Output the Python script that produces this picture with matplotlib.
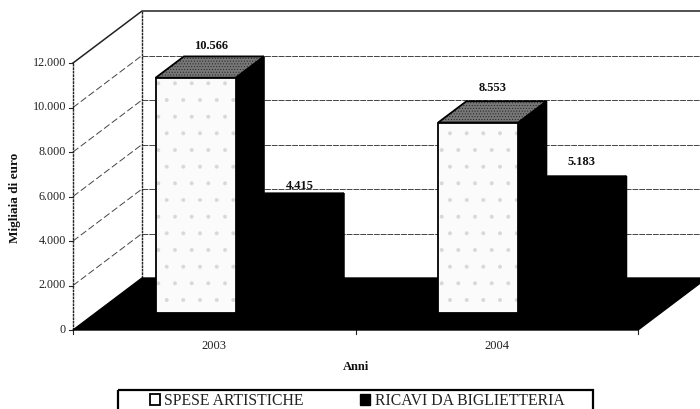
import matplotlib
matplotlib.use("Agg")
import matplotlib.pyplot as plt
from matplotlib.patches import Polygon, Patch, Rectangle

plt.rcParams['font.family'] = ['Liberation Serif', 'DejaVu Serif']
plt.rcParams['hatch.linewidth'] = 0.4

anni = ['2003', '2004']
spese = [10566, 8553]
ricavi = [4415, 5183]
spese_labels = ['10.566', '8.553']
ricavi_labels = ['4.415', '5.183']
y_ticks = [0, 2000, 4000, 6000, 8000, 10000, 12000]
y_tick_labels = ['0', '2.000', '4.000', '6.000', '8.000', '10.000', '12.000']

# fake 3d: everything goes through this projection, in pixels of the image
X0, Y0 = 73, 330
CAT_W = 282.5
PX_PER_VALUE = 267 / 12000
DEPTH_X, DEPTH_Y = 69, 52
BAR_W = 0.283
BAR_START = 0.212
D_FRONT, D_BACK = 0.33, 0.74


def pt(x, value, depth=0):
    return (X0 + CAT_W * x + DEPTH_X * depth, Y0 - PX_PER_VALUE * value - DEPTH_Y * depth)


def face(verts, color, hatch=None, hatch_color='none'):
    ax.add_patch(Polygon(verts, facecolor=color, edgecolor=hatch_color, hatch=hatch, lw=0, zorder=4))
    ax.add_patch(Polygon(verts, fill=False, edgecolor='black', lw=1.3, zorder=4))


def bar(x, value, front, side, top, front_hatch=None, top_hatch=None):
    x2 = x + BAR_W
    face([pt(x2, 0, D_FRONT), pt(x2, value, D_FRONT), pt(x2, value, D_BACK), pt(x2, 0, D_BACK)], side)
    face([pt(x, value, D_FRONT), pt(x2, value, D_FRONT), pt(x2, value, D_BACK), pt(x, value, D_BACK)],
         top, top_hatch, '#222222')
    face([pt(x, 0, D_FRONT), pt(x2, 0, D_FRONT), pt(x2, value, D_FRONT), pt(x, value, D_FRONT)],
         front, front_hatch, '#d8d8d8')


fig = plt.figure(figsize=(7, 4.09), dpi=100)
ax = fig.add_axes([0, 0, 1, 1])
ax.set_xlim(0, 700)
ax.set_ylim(409, 0)
ax.axis('off')

# walls and gridlines
n = len(anni)
for v in y_ticks:
    if v in (0, 12000):
        continue
    xs, ys = zip(pt(0, v), pt(0, v, 1))
    ax.plot(xs, ys, color='#444444', lw=0.7, ls=(0, (7, 3)), zorder=1)
    xs, ys = zip(pt(0, v, 1), pt(n, v, 1))
    ax.plot(xs, ys, color='#444444', lw=0.7, ls=(0, (6, 1)), zorder=1)
xs, ys = zip(pt(0, 12000), pt(0, 12000, 1), pt(n, 12000, 1))
ax.plot(xs, ys, color='#222222', lw=1.1, zorder=2)
xs, ys = zip(pt(0, 0), pt(0, 12000))
ax.plot(xs, ys, color='#222222', lw=1.0, ls=(0, (2, 0.5)), zorder=2)
xs, ys = zip(pt(0, 0, 1), pt(0, 12000, 1))
ax.plot(xs, ys, color='#222222', lw=1.0, ls=(0, (2, 0.5)), zorder=2)

# floor
ax.add_patch(Polygon([pt(0, 0), pt(n, 0), pt(n, 0, 1), pt(0, 0, 1)], facecolor='black', edgecolor='black', zorder=3))

for i in range(n):
    bar(i + BAR_START + BAR_W, ricavi[i], 'black', 'black', 'black')
    bar(i + BAR_START, spese[i], '#fbfbfb', 'black', '#777777', front_hatch='.', top_hatch='......')

# value labels
spese_offset = [(-13, -10), (-14, -13)]
ricavi_offset = [(-4, -7), (-5, -14)]
for i in range(n):
    x, y = pt(i + BAR_START + BAR_W / 2, spese[i], D_BACK)
    ax.text(x + spese_offset[i][0], y + spese_offset[i][1], spese_labels[i], ha='center', va='center',
            fontsize=9, fontweight='bold', color='#111111', zorder=5)
    x, y = pt(i + BAR_START + 1.5 * BAR_W, ricavi[i], D_BACK)
    ax.text(x + ricavi_offset[i][0], y + ricavi_offset[i][1], ricavi_labels[i], ha='center', va='center',
            fontsize=9, fontweight='bold', color='#111111', zorder=5)

# axis ticks and tick labels
for v, lab in zip(y_ticks, y_tick_labels):
    x, y = pt(0, v)
    ax.plot([x - 4, x], [y, y], color='#222222', lw=0.8)
    ax.text(x - 7, y, lab, ha='right', va='center', fontsize=8.7, color='#222222')
for i in range(n + 1):
    x, y = pt(i, 0)
    ax.plot([x, x], [y, y + 4], color='#222222', lw=0.8)
for i, lab in enumerate(anni):
    x, y = pt(i + 0.5, 0)
    ax.text(x, y + 16, lab, ha='center', va='center', fontsize=9, color='#222222')

ax.text(356, 367, 'Anni', ha='center', va='center', fontsize=9, fontweight='bold', color='#111111')
ax.text(15, 198, 'Migliaia di euro', rotation=90, ha='center', va='center', fontsize=9.5, fontweight='bold', color='#111111')

# legend, the box runs off the bottom of the image
ax.add_patch(Rectangle((118, 390), 475, 30, fill=False, edgecolor='black', lw=1.6, clip_on=True))
handles = [Patch(facecolor='white', edgecolor='black', lw=1.3), Patch(facecolor='black', edgecolor='black')]
leg = ax.legend(handles, ['SPESE ARTISTICHE', 'RICAVI DA BIGLIETTERIA'], ncol=2, frameon=False,
                loc='center left', bbox_to_anchor=(150 / 700, 1 - 401 / 409), borderaxespad=0, borderpad=0,
                fontsize=11.3, handlelength=0.62, handleheight=0.62, handletextpad=0.3, columnspacing=3.6)
for t in leg.get_texts():
    t.set_color('#222222')

fig.savefig('out.png', dpi=100)
